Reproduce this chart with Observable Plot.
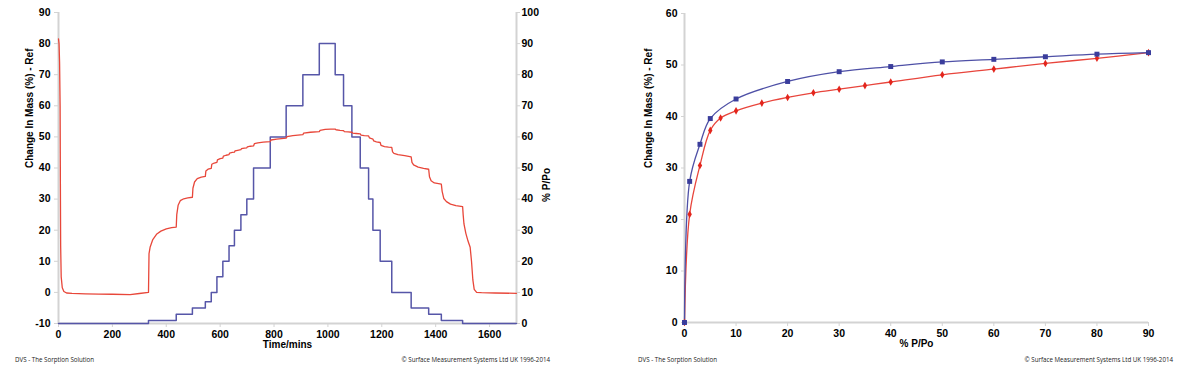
<!DOCTYPE html>
<html><head><meta charset="utf-8">
<script src="https://cdn.jsdelivr.net/npm/d3@7"></script>
<script src="https://cdn.jsdelivr.net/npm/@observablehq/plot@0.6"></script>
<style>
body{margin:0;background:#fff;width:1181px;height:366px;overflow:hidden;font-family:"Liberation Sans",Arial,sans-serif}
#wrap{position:relative;width:1181px;height:366px;background:#fff}
.panel{position:absolute;top:0}
.foot{position:absolute;top:356px;font-family:"Open Sans",sans-serif;font-size:6.2px;line-height:8px;color:#222;white-space:nowrap}
</style></head><body>
<div id="wrap">
<div id="left" class="panel" style="left:0"></div>
<div id="right" class="panel" style="left:590px"></div>
<div class="foot" style="left:15px">DVS - The Sorption Solution</div>
<div class="foot" style="right:631px">© Surface Measurement Systems Ltd UK 1996-2014</div>
<div class="foot" style="left:638px">DVS - The Sorption Solution</div>
<div class="foot" style="right:8px">© Surface Measurement Systems Ltd UK 1996-2014</div>
</div>
<script>
// ---- Kinetic plot data ----
const stepTime = [0, 334, 437, 497, 545, 567, 588, 610, 633, 653, 677, 699, 724, 786, 845, 907, 968, 1027, 1058, 1089, 1120, 1151, 1167, 1194, 1237, 1309, 1374, 1421, 1500, 1700];
const stepPPo  = [0, 1, 3, 5, 7, 10, 15, 20, 25, 30, 35, 40, 50, 60, 70, 80, 90, 80, 70, 60, 50, 40, 30, 20, 10, 5, 3, 1, 0, 0];

const massTime = [0,2,4,6,7,8,10,14,20,30,50,100,150,200,266,300,334,336,340,350,365,380,400,420,437,439,444,452,465,480,497,499,505,515,530,545,547,555,567,569,578,588,590,600,610,612,622,633,635,645,653,655,665,677,679,690,699,701,712,724,727,740,760,786,789,810,845,848,870,907,910,935,968,971,990,1010,1027,1030,1045,1058,1061,1075,1089,1092,1105,1120,1123,1135,1151,1154,1160,1167,1170,1180,1194,1197,1210,1225,1237,1240,1245,1260,1285,1309,1312,1318,1335,1355,1374,1377,1383,1395,1421,1424,1430,1440,1455,1475,1500,1502,1505,1512,1520,1528,1533,1538,1543,1552,1570,1620,1700];
const massChange = [81.5,80,74,60,35,15,5,1.5,0.3,-0.2,-0.3,-0.45,-0.55,-0.6,-0.7,-0.35,0,12.5,14.5,17,18.8,19.7,20.4,20.8,21.0,25,28,29.5,30.1,30.4,30.6,33.5,35.5,36.6,37.1,37.3,39.0,39.6,39.9,41.2,41.6,41.8,42.6,43.0,43.2,43.8,44.1,44.3,44.8,45.0,45.1,45.5,45.7,45.9,46.2,46.4,46.5,46.8,47.0,47.1,47.8,48.1,48.3,48.5,49.0,49.3,49.6,50.1,50.4,50.7,51.2,51.5,51.7,52.1,52.4,52.5,52.5,52.3,52.1,52.0,51.7,51.6,51.5,51.2,51.1,51.0,50.6,50.4,50.3,49.7,49.5,49.3,48.7,48.4,48.2,47.3,46.9,46.7,46.6,45.2,44.7,44.3,44.0,43.6,41.8,41.0,40.3,39.9,39.6,37.2,35.9,35.2,34.8,32.5,30.2,29.2,28.4,27.9,27.6,25,22,19,16.5,14.5,10,4,1,0,-0.1,-0.2,-0.3];

const massTicks = [-10,0,10,20,30,40,50,60,70,80,90];
const timeTicks = [0,200,400,600,800,1000,1200,1400,1600];

// ---- Isotherm data ----
const sorpPPo  = [0,1,3,5,7,10,15,20,25,30,35,40,50,60,70,80,90];
const sorpMass = [0,21.0,30.5,37.3,39.7,41.1,42.6,43.7,44.6,45.3,46.0,46.7,48.1,49.2,50.3,51.3,52.4];
const desPPo   = [90,80,70,60,50,40,30,20,10,5,3,1,0];
const desMass  = [52.4,52.1,51.6,51.1,50.6,49.7,48.7,46.8,43.4,39.6,34.6,27.4,0];
const isoYTicks = [0,10,20,30,40,50,60];
const isoXTicks = [0,10,20,30,40,50,60,70,80,90];

const steps = stepTime.map((t,i)=>({t, p: stepPPo[i]}));
const mass = massTime.map((t,i)=>({t, m: massChange[i]}));
const sorp = sorpPPo.map((x,i)=>({x, m: sorpMass[i]}));
const des = desPPo.map((x,i)=>({x, m: desMass[i]}));

const axisColor = "#d3d3d3";
const red = "#e8473a", blue = "#5656a8";
const font = "'Liberation Sans', Arial, sans-serif";
const fmt = d => String(d);
const st = {fontFamily: font, fontSize: "10.5px", fontWeight: "bold", color: "#000", background: "transparent", overflow: "visible"};
const lbl = {fontSize: 10, fontWeight: "bold", fill: "#000", fontFamily: font};

const leftPlot = Plot.plot({
  width: 590, height: 352, marginLeft: 58, marginRight: 74, marginTop: 12, marginBottom: 29,
  x: {domain: [0, 1700]}, y: {domain: [-10, 90]},
  style: st,
  marks: [
    Plot.ruleX([0], {stroke: axisColor, strokeWidth: 2}),
    Plot.ruleX([1700], {stroke: axisColor, strokeWidth: 2}),
    Plot.ruleY([-10], {stroke: axisColor, strokeWidth: 2}),
    Plot.axisY({ticks: massTicks, tickFormat: fmt, tickSize: 4, tickPadding: 4, stroke: axisColor, color: "#000", label: null}),
    Plot.axisY({anchor: "right", ticks: massTicks, tickFormat: d => String(d + 10), tickSize: 3, tickPadding: 2, stroke: axisColor, color: "#000", label: null}),
    Plot.axisX({ticks: timeTicks, tickFormat: fmt, tickSize: 4, tickPadding: 3, stroke: axisColor, color: "#000", label: null}),
    Plot.line(steps, {x: "t", y: d => d.p - 10, curve: "step-after", stroke: blue, strokeWidth: 1.5}),
    Plot.line(mass, {x: "t", y: "m", stroke: red, strokeWidth: 1.3}),
    Plot.text(["Change In Mass (%) - Ref"], {text: d => d, frameAnchor: "left", dx: -29, rotate: -90, ...lbl}),
    Plot.text(["% P/Po"], {text: d => d, frameAnchor: "right", dx: 30, rotate: -90, ...lbl}),
    Plot.text(["Time/mins"], {text: d => d, frameAnchor: "bottom", dy: 24, ...lbl})
  ]
});
document.getElementById("left").appendChild(leftPlot);

const rightPlot = Plot.plot({
  width: 591, height: 352, marginLeft: 94, marginRight: 33, marginTop: 13, marginBottom: 30,
  x: {domain: [0, 90]}, y: {domain: [0, 60]},
  style: st,
  marks: [
    Plot.ruleX([0], {stroke: axisColor, strokeWidth: 2}),
    Plot.ruleY([0], {stroke: axisColor, strokeWidth: 2}),
    Plot.axisY({ticks: isoYTicks, tickFormat: fmt, tickSize: 3, tickPadding: 4, stroke: axisColor, color: "#000", label: null}),
    Plot.axisX({ticks: isoXTicks, tickFormat: fmt, tickSize: 4, tickPadding: 3, stroke: axisColor, color: "#000", label: null}),
    Plot.line(sorp, {x: "x", y: "m", curve: "catmull-rom", stroke: "#e8453c", strokeWidth: 1.3}),
    Plot.line(des, {x: "x", y: "m", curve: "catmull-rom", stroke: "#4e50a6", strokeWidth: 1.3}),
    Plot.dot(sorp, {x: "x", y: "m", symbol: "diamond", r: 2.3, fill: "#e3251c"}),
    Plot.dot(des, {x: "x", y: "m", symbol: "square", r: 2.8, fill: "#3a3d9c"}),
    Plot.text(["Change In Mass (%) - Ref"], {text: d => d, frameAnchor: "left", dx: -36, rotate: -90, ...lbl}),
    Plot.text(["% P/Po"], {text: d => d, frameAnchor: "bottom", dy: 24, ...lbl})
  ]
});
document.getElementById("right").appendChild(rightPlot);
</script>
</body></html>
